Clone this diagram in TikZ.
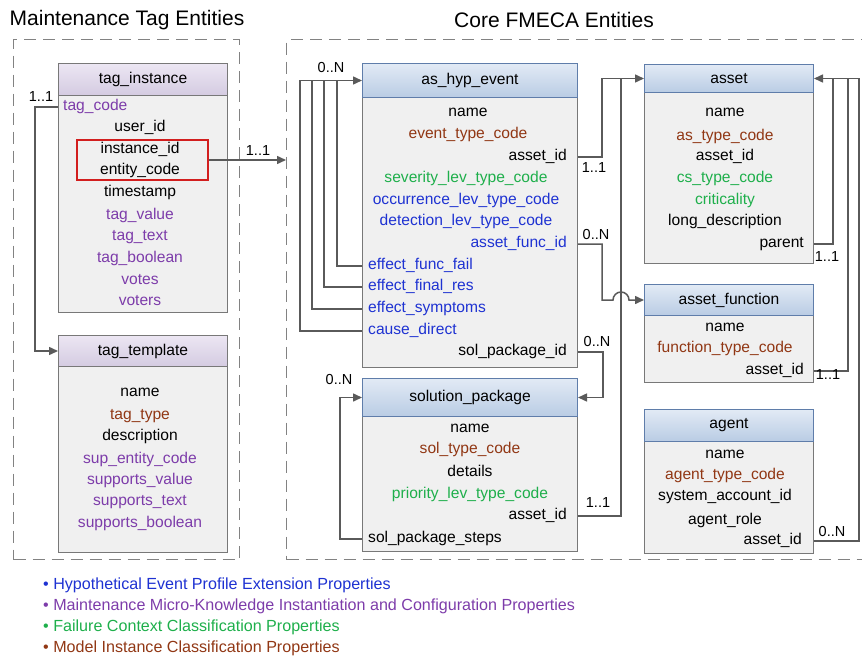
\documentclass[tikz,border=0pt]{standalone}
\usepackage{fontspec}
\setmainfont{Liberation Sans}
\usetikzlibrary{arrows.meta,calc}
\definecolor{cblue}{RGB}{30,50,210}
\definecolor{cpurple}{RGB}{125,60,170}
\definecolor{cgreen}{RGB}{30,175,75}
\definecolor{cbrown}{RGB}{145,55,20}
\definecolor{boxgray}{RGB}{120,120,120}
\definecolor{bodyfill}{RGB}{240,240,240}
\definecolor{ptop}{RGB}{236,230,243}
\definecolor{pbot}{RGB}{212,203,225}
\definecolor{btop}{RGB}{226,234,245}
\definecolor{bbot}{RGB}{185,204,228}
\definecolor{bborder}{RGB}{95,125,170}
\definecolor{conngray}{RGB}{90,90,90}
\definecolor{framegray}{RGB}{130,130,130}
\definecolor{selred}{RGB}{210,30,30}
\newcommand{\rowfont}{\fontsize{15.6pt}{18pt}\selectfont}
\newcommand{\labfont}{\fontsize{14.5pt}{17pt}\selectfont}
\newcommand{\titfont}{\fontsize{21pt}{24pt}\selectfont}
\newcommand{\legfont}{\fontsize{16.1pt}{18pt}\selectfont}
\begin{document}
\begin{tikzpicture}[x=1pt,y=-1pt,
  frame/.style={draw=framegray, dash pattern=on 12pt off 7pt, line width=1.2pt, inner sep=0pt, anchor=north west},
  hdrP/.style={draw=boxgray, line width=1pt, top color=ptop, bottom color=pbot, inner sep=0pt, anchor=north west, font=\rowfont},
  hdrB/.style={draw=bborder, line width=1pt, top color=btop, bottom color=bbot, inner sep=0pt, anchor=north west, font=\rowfont},
  body/.style={draw=boxgray, fill=bodyfill, line width=1pt, inner sep=0pt, anchor=north west},
  row/.style={inner sep=0pt, font=\rowfont, text height=11pt, text depth=3.5pt},
  rl/.style={row, anchor=west},
  rr/.style={row, anchor=east},
  conn/.style={draw=conngray, line width=1.5pt},
  arr/.style={conn, -{Triangle[length=9pt,width=8pt]}},
  lab/.style={inner sep=0pt, font=\labfont},
  leg/.style={inner sep=0pt, anchor=west, font=\legfont}]
\useasboundingbox (0,0) rectangle (862,656);

% titles
\node[inner sep=0pt, font=\titfont] (t1) at (127,20) {Maintenance Tag Entities};
\node[inner sep=0pt, font=\titfont] (t2) at (554,20) {Core FMECA Entities};

% frames
\node[frame, minimum width=226pt, minimum height=520pt] (mt) at (13,39) {};
\node[frame, minimum width=584pt, minimum height=520pt] (core) at (286,39) {};

% tag_instance
\node[body, minimum width=169pt, minimum height=217pt] (tib) at (58,95) {};
\node[hdrP, minimum width=169pt, minimum height=32pt] (tih) at (58,63) {tag\_instance};
\node[rl, text=cpurple] (ti1) at (63,107) {tag\_code};
\node[row] (ti2) at (140,128) {user\_id};
\node[row] (ti3) at (140,150) {instance\_id};
\node[row] (ti4) at (140,171) {entity\_code};
\node[row] (ti5) at (140,193) {timestamp};
\node[row, text=cpurple] (ti6) at (140,216) {tag\_value};
\node[row, text=cpurple] (ti7) at (140,237) {tag\_text};
\node[row, text=cpurple] (ti8) at (140,259) {tag\_boolean};
\node[row, text=cpurple] (ti9) at (140,281) {votes};
\node[row, text=cpurple] (ti10) at (140,302) {voters};
\node[draw=selred, line width=1.3pt, minimum width=131pt, minimum height=40pt, inner sep=0pt] (sel) at (142.5,160) {};

% tag_template
\node[body, minimum width=169pt, minimum height=186pt] (ttb) at (58,366) {};
\node[hdrP, minimum width=169pt, minimum height=31pt] (tth) at (58,335) {tag\_template};
\node[row] (tt1) at (140,393) {name};
\node[row, text=cbrown] (tt2) at (140,416) {tag\_type};
\node[row] (tt3) at (140,437) {description};
\node[row, text=cpurple] (tt4) at (140,460) {sup\_entity\_code};
\node[row, text=cpurple] (tt5) at (140,481) {supports\_value};
\node[row, text=cpurple] (tt6) at (140,502) {supports\_text};
\node[row, text=cpurple] (tt7) at (140,524) {supports\_boolean};

% as_hyp_event
\node[body, minimum width=215pt, minimum height=270pt] (hb) at (362,97) {};
\node[hdrB, minimum width=215pt, minimum height=34pt] (hh) at (362,63) {as\_hyp\_event};
\node[row] (h1) at (468,113) {name};
\node[row, text=cbrown] (h2) at (468,135) {event\_type\_code};
\node[rr] (h3) at (567,157) {asset\_id};
\node[row, text=cgreen] (h4) at (466,179) {severity\_lev\_type\_code};
\node[row, text=cblue] (h5) at (466,201) {occurrence\_lev\_type\_code};
\node[row, text=cblue] (h6) at (466,222) {detection\_lev\_type\_code};
\node[rr, text=cblue] (h7) at (567,244) {asset\_func\_id};
\node[rl, text=cblue] (h8) at (368,266) {effect\_func\_fail};
\node[rl, text=cblue] (h9) at (368,287) {effect\_final\_res};
\node[rl, text=cblue] (h10) at (368,309) {effect\_symptoms};
\node[rl, text=cblue] (h11) at (368,331) {cause\_direct};
\node[rr] (h12) at (567,352) {sol\_package\_id};

% solution_package
\node[body, minimum width=215pt, minimum height=135pt] (sb) at (362,416) {};
\node[hdrB, minimum width=215pt, minimum height=38pt] (sh) at (362,378) {solution\_package};
\node[row] (s1) at (470,429) {name};
\node[row, text=cbrown] (s2) at (470,450) {sol\_type\_code};
\node[row] (s3) at (470,473) {details};
\node[row, text=cgreen] (s4) at (470,495) {priority\_lev\_type\_code};
\node[rr] (s5) at (567,516) {asset\_id};
\node[rl] (s6) at (368,539) {sol\_package\_steps};

% asset
\node[body, minimum width=169pt, minimum height=171pt] (ab) at (644,92) {};
\node[hdrB, minimum width=169pt, minimum height=28pt] (ah) at (644,64) {asset};
\node[row] (a1) at (725,113) {name};
\node[row, text=cbrown] (a2) at (725,137) {as\_type\_code};
\node[row] (a3) at (725,157) {asset\_id};
\node[row, text=cgreen] (a4) at (725,179) {cs\_type\_code};
\node[row, text=cgreen] (a5) at (725,201) {criticality};
\node[row] (a6) at (725,222) {long\_description};
\node[rr] (a7) at (804,244) {parent};

% asset_function
\node[body, minimum width=169pt, minimum height=67pt] (fb) at (644,315) {};
\node[hdrB, minimum width=169pt, minimum height=31pt] (fh) at (644,284) {asset\_function};
\node[row] (f1) at (725,328) {name};
\node[row, text=cbrown] (f2) at (725,349) {function\_type\_code};
\node[rr] (f3) at (804,371) {asset\_id};

% agent
\node[body, minimum width=169pt, minimum height=112pt] (gb) at (644,441) {};
\node[hdrB, minimum width=169pt, minimum height=32pt] (gh) at (644,409) {agent};
\node[row] (g1) at (725,455) {name};
\node[row, text=cbrown] (g2) at (725,476) {agent\_type\_code};
\node[row] (g3) at (725,497) {system\_account\_id};
\node[row] (g4) at (725,521) {agent\_role};
\node[rr] (g5) at (802,541) {asset\_id};

% connectors: maintenance tags
\draw[arr] (tib.west |- ti1) -| ($(tth.west)+(-23pt,0pt)$) -- (tth.west);
\node[lab] (l1) at (41,97) {1..1};
\draw[arr] (sel.east) -- (sel.east -| core.west);
\node[lab] (l2) at (258,151) {1..1};

% as_hyp_event self loops
\draw[conn] (hb.west |- h8) -| ($(hh.west)+(-25pt,0pt)$);
\draw[conn] (hb.west |- h9) -| ($(hh.west)+(-38pt,0pt)$);
\draw[conn] (hb.west |- h10) -| ($(hh.west)+(-50pt,0pt)$);
\draw[arr] (hb.west |- h11) -| ($(hh.west)+(-62pt,0pt)$) -- (hh.west);
\node[lab] (l3) at (331,68) {0..N};

% as_hyp_event -> asset
\path (ah.west) ++(-23pt,0pt) coordinate (vx);
\draw[arr] (hb.east |- h3) -- ++(24pt,0pt) |- (ah.west);
\node[lab] (l4) at (594,168) {1..1};

% as_hyp_event -> asset_function (with hop)
\draw[arr] (hb.east |- h7) -- ++(24pt,0pt) |- ($(vx |- fh.west)+(-8pt,0pt)$) arc[start angle=180, end angle=0, radius=8pt] -- (fh.west);
\node[lab] (l5) at (596,235) {0..N};

% as_hyp_event -> solution_package
\draw[arr] (hb.east |- h12) -- ++(25pt,0pt) |- (sh.east);
\node[lab] (l6) at (597,342) {0..N};

% solution_package -> asset
\draw[conn] (sb.east |- s5) -| (vx);
\node[lab] (l7) at (598,503) {1..1};

% solution_package self loop
\draw[arr] (sb.west |- s6) -| ($(sh.west)+(-22pt,0pt)$) -- (sh.west);
\node[lab] (l8) at (339,380) {0..N};

% right side loops into asset
\draw[conn] (ab.east |- a7) -| ($(ah.east)+(19pt,0pt)$);
\draw[conn] (fb.east |- f3) -| ($(ah.east)+(34pt,0pt)$);
\draw[arr] (gb.east |- g5) -| ($(ah.east)+(45pt,0pt)$) -- (ah.east);
\node[lab] (l9) at (827,257) {1..1};
\node[lab] (l10) at (828,375) {1..1};
\node[lab] (l11) at (832,532) {0..N};

% legend
\node[leg, text=cblue] (lg1) at (43,585) {• Hypothetical Event Profile Extension Properties};
\node[leg, text=cpurple] (lg2) at (43,606) {• Maintenance Micro-Knowledge Instantiation and Configuration Properties};
\node[leg, text=cgreen] (lg3) at (43,627) {• Failure Context Classification Properties};
\node[leg, text=cbrown] (lg4) at (43,648) {• Model Instance Classification Properties};
\end{tikzpicture}
\end{document}
